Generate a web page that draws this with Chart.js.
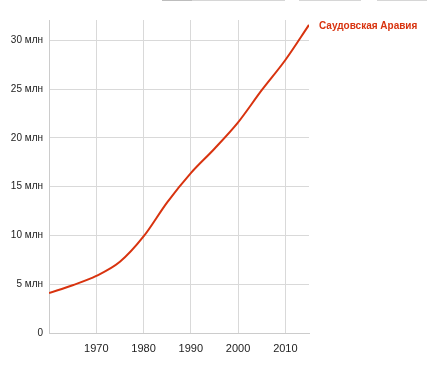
<!DOCTYPE html>
<html>
<head>
<meta charset="utf-8">
<style>
  html, body { margin: 0; padding: 0; background: #fff; }
  #wrap { position: relative; width: 427px; height: 370px; }
  .bar { position: absolute; top: 0; height: 1px; background: #d6d6d6; }
</style>
</head>
<body>
<div id="wrap">
  <div class="bar" style="left:162px;width:123px;"></div>
  <div class="bar" style="left:162px;width:30px;background:#bdbdbd;"></div>
  <div class="bar" style="left:299px;width:62px;"></div>
  <div class="bar" style="left:377px;width:50px;"></div>
  <canvas id="chart" width="427" height="370"></canvas>
</div>
<script src="https://cdn.jsdelivr.net/npm/chart.js@4/dist/chart.umd.min.js"></script>
<script>
// Population of Saudi Arabia
const years = [1960, 1965, 1970, 1975, 1980, 1985, 1990, 1995, 2000, 2005, 2010, 2015];
const population = [4.1e6, 4.9e6, 5.85e6, 7.3e6, 9.9e6, 13.4e6, 16.4e6, 18.9e6, 21.6e6, 24.9e6, 28.0e6, 31.6e6];
const xTicks = [1970, 1980, 1990, 2000, 2010];
const yTicks = [0, 5e6, 10e6, 15e6, 20e6, 25e6, 30e6];
const seriesName = 'Саудовская Аравия';

const red = '#d8330f';
const gridColor = '#d9d9d9';

// Label at the end of the line
const endLabel = {
    id: 'endLabel',
    afterDatasetsDraw(chart) {
        const meta = chart.getDatasetMeta(0);
        const last = meta.data[meta.data.length - 1];
        const ctx = chart.ctx;
        ctx.save();
        ctx.font = 'bold 10px "Liberation Sans", Arial, sans-serif';
        ctx.fillStyle = red;
        ctx.textBaseline = 'middle';
        ctx.fillText(seriesName, last.x + 10, last.y + 1);
        ctx.restore();
    }
};

new Chart(document.getElementById('chart'), {
    type: 'line',
    data: {
        datasets: [{
            data: years.map((y, i) => ({ x: y, y: population[i] })),
            borderColor: red,
            borderWidth: 2,
            pointRadius: 0,
            cubicInterpolationMode: 'monotone',
            fill: false
        }]
    },
    options: {
        responsive: false,
        animation: false,
        layout: { padding: { top: 20, right: 118, left: 0, bottom: 0 } },
        plugins: {
            legend: { display: false },
            tooltip: { enabled: false }
        },
        scales: {
            x: {
                type: 'linear',
                min: 1960,
                max: 2015,
                afterBuildTicks: scale => { scale.ticks = xTicks.map(v => ({ value: v })); },
                afterFit: scale => { scale.height = 37; },
                grid: { color: gridColor, lineWidth: 1, drawTicks: false },
                border: { color: '#cccccc' },
                ticks: {
                    color: '#222',
                    padding: 9,
                    maxRotation: 0,
                    font: { family: '"Liberation Sans", Arial, sans-serif', size: 11 },
                    callback: v => String(v)
                }
            },
            y: {
                min: 0,
                max: 32.1e6,
                afterBuildTicks: scale => { scale.ticks = yTicks.map(v => ({ value: v })); },
                afterFit: scale => { scale.width = 49; },
                grid: { color: gridColor, lineWidth: 1, drawTicks: false },
                border: { color: '#cccccc' },
                ticks: {
                    color: '#222',
                    padding: 6,
                    font: { family: '"Liberation Sans", Arial, sans-serif', size: 10 },
                    callback: v => v === 0 ? '0' : (v / 1e6) + ' млн'
                }
            }
        }
    },
    plugins: [endLabel]
});
</script>
</body>
</html>
